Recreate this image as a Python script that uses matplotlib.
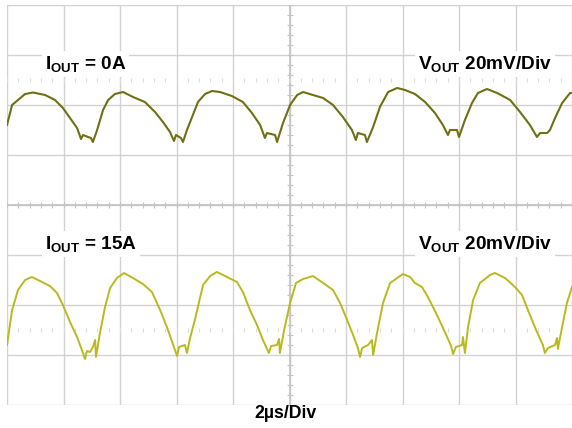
import numpy as np
import matplotlib
matplotlib.use("Agg")
import matplotlib.pyplot as plt

plt.rcParams['font.family'] = ['Liberation Sans', 'DejaVu Sans']
plt.rcParams['mathtext.fontset'] = 'custom'
plt.rcParams['mathtext.rm'] = 'Liberation Sans'
plt.rcParams['mathtext.bf'] = 'Liberation Sans:bold'

# ---- data: time in microseconds, voltage in mV (screen position) ----
t_0a = [0.00, 0.18, 0.64, 0.92, 1.35, 1.70, 1.98, 2.23, 2.48, 2.62, 2.69, 2.87, 2.97, 3.04,
        3.19, 3.40, 3.58, 3.82, 4.11, 4.46, 4.88, 5.24, 5.52, 5.77, 5.91, 5.98, 6.16, 6.23,
        6.37, 6.58, 6.76, 7.01, 7.26, 7.54, 7.96, 8.35, 8.67, 8.96, 9.13, 9.20, 9.49, 9.56,
        9.77, 10.02, 10.27, 10.48, 10.83, 11.19, 11.54, 11.89, 12.21, 12.35, 12.42, 12.67,
        12.74, 12.96, 13.20, 13.49, 13.81, 14.09, 14.44, 14.80, 15.15, 15.43, 15.61, 15.68,
        15.93, 16.00, 16.21, 16.46, 16.67, 16.99, 17.35, 17.81, 18.16, 18.51, 18.76, 18.87,
        19.12, 19.22, 19.40, 19.65, 19.93, 20.00]
v_0a = [32.0, 40.0, 44.4, 45.0, 44.0, 42.0, 38.8, 34.8, 30.8, 26.4, 28.0, 27.2, 26.8, 25.2,
        30.0, 38.0, 42.0, 44.4, 45.2, 43.2, 41.2, 37.2, 33.2, 29.2, 25.6, 28.0, 26.8, 25.2,
        30.0, 36.0, 41.2, 44.4, 45.6, 45.2, 43.6, 41.2, 36.8, 32.0, 26.8, 28.8, 28.0, 25.2,
        32.8, 40.0, 44.0, 45.2, 44.0, 42.8, 40.0, 35.2, 30.0, 26.0, 28.8, 28.0,
        25.2, 31.2, 39.2, 45.2, 46.8, 46.0, 44.4, 41.2, 36.8, 32.0, 28.0, 30.0,
        30.0, 27.2, 34.0, 40.8, 44.8, 46.4, 44.8, 42.0, 37.2, 32.0, 27.2, 28.8,
        28.8, 30.0, 34.8, 40.8, 44.8, 44.8]

t_15a = [0.00, 0.18, 0.39, 0.64, 0.88, 1.17, 1.52, 1.77, 1.98, 2.23, 2.48, 2.69, 2.76, 2.83,
         2.94, 3.04, 3.12, 3.15, 3.29, 3.47, 3.65, 3.89, 4.14, 4.46, 4.81, 5.13, 5.42, 5.66,
         5.91, 6.02, 6.09, 6.30, 6.37, 6.48, 6.65, 6.94, 7.19, 7.43, 7.79, 8.14, 8.35, 8.60,
         8.85, 9.06, 9.27, 9.35, 9.56, 9.63, 9.66, 9.81, 10.02, 10.23, 10.48, 10.83, 11.19,
         11.54, 11.79, 12.04, 12.25, 12.42, 12.50, 12.57, 12.78, 12.92, 12.96, 13.10, 13.31,
         13.56, 13.91, 14.02, 14.27, 14.44, 14.69, 14.90, 15.22, 15.50, 15.72, 15.79, 15.89,
         16.11, 16.14, 16.21, 16.32, 16.50, 16.74, 17.10, 17.27, 17.63, 17.98, 18.23, 18.51,
         18.76, 18.97, 19.04, 19.15, 19.40, 19.47, 19.50, 19.65, 19.82, 20.00]
v_15a = [-56.0, -42.0, -34.0, -30.0, -28.8, -30.4, -32.4, -35.2, -40.0, -46.8, -52.8, -59.2, -61.6, -58.4,
         -58.8, -56.8, -54.0, -60.8, -51.2, -40.8, -33.2, -29.2, -27.2, -29.2, -31.6, -34.8, -42.0, -48.8,
         -56.8, -60.4, -56.8, -56.0, -59.2, -53.2, -46.0, -32.0, -28.4, -26.8, -28.8, -30.8, -34.8, -42.0,
         -48.0, -54.0, -59.2, -56.4, -56.0, -53.6, -59.2, -50.0, -39.2, -31.2, -29.6, -28.4, -31.2,
         -34.0, -39.2, -46.0, -52.0, -57.2, -60.8, -57.2, -56.0, -54.0, -60.0, -51.2, -39.2,
         -31.2, -28.4, -27.6, -28.8, -31.2, -32.8, -36.8, -44.0, -50.8, -56.4, -59.6, -56.8,
         -56.0, -52.8, -59.2, -48.8, -38.0, -31.2, -28.0, -27.2, -29.2, -32.8, -36.0, -44.0,
         -50.8, -56.0, -59.2, -57.2, -56.0, -53.2, -57.6, -48.8, -39.2, -32.8]

labels_top = [r"$\mathbf{I_{OUT}}$ = 0A", r"$\mathbf{V_{OUT}}$ 20mV/Div"]
labels_bot = [r"$\mathbf{I_{OUT}}$ = 15A", r"$\mathbf{V_{OUT}}$ 20mV/Div"]
xlabel = "2µs/Div"

# ---- figure ----
W, H = 572, 428
fig = plt.figure(figsize=(W / 100, H / 100), dpi=100)
ax = fig.add_axes([7 / W, (H - 405) / H, (572 - 7) / W, 400 / H])
ax.set_xlim(0, 20)
ax.set_ylim(-80, 80)
for s in ax.spines.values():
    s.set_visible(False)
ax.set_xticks([])
ax.set_yticks([])

grid_c = '#d2d2d2'
for xv in np.arange(0, 20.01, 2):
    ax.axvline(xv, color=grid_c, lw=1.0, zorder=1)
for yv in np.arange(-80, 80.01, 20):
    ax.axhline(yv, color=grid_c, lw=1.0, zorder=1)
ax.axhline(0, color='#c4c4c4', lw=1.3, zorder=1)
ax.axvline(10, color='#c4c4c4', lw=1.2, zorder=1)

# minor ticks on center lines
mt_x = np.arange(0, 20.01, 0.4)
mt_y = np.arange(-80, 80.01, 4)
ax.plot(mt_x, np.zeros_like(mt_x), ls='none', marker='|', ms=5, mew=0.8, color='#c4c4c4', zorder=1)
ax.plot(np.full_like(mt_y, 10), mt_y, ls='none', marker='_', ms=5, mew=0.8, color='#c4c4c4', zorder=1)
for yv in (50, -50):
    ax.plot(mt_x, np.full_like(mt_x, yv), ls='none', marker='|', ms=3, mew=0.8, color='#dcdcdc', zorder=1)

ax.plot(t_0a, v_0a, color='#6f6f14', lw=1.5, zorder=3, solid_joinstyle='round')
ax.plot(t_15a, v_15a, color='#b9b920', lw=1.4, zorder=3, solid_joinstyle='round')

fs = 13.7
bbox = dict(facecolor='white', edgecolor='none', pad=2)
ax.text(1.35, 56.5, labels_top[0], fontsize=fs, fontweight='bold', ha='left', va='center', bbox=bbox, zorder=4)
ax.text(19.3, 56.5, labels_top[1], fontsize=fs, fontweight='bold', ha='right', va='center', bbox=bbox, zorder=4)
ax.text(1.35, -15.5, labels_bot[0], fontsize=fs, fontweight='bold', ha='left', va='center', bbox=bbox, zorder=4)
ax.text(19.3, -15.5, labels_bot[1], fontsize=fs, fontweight='bold', ha='right', va='center', bbox=bbox, zorder=4)

fig.text(285.5 / W, (H - 414) / H, xlabel, fontsize=12.8, fontweight='bold', ha='center', va='center')

fig.savefig('out.png', dpi=100, facecolor='white')
